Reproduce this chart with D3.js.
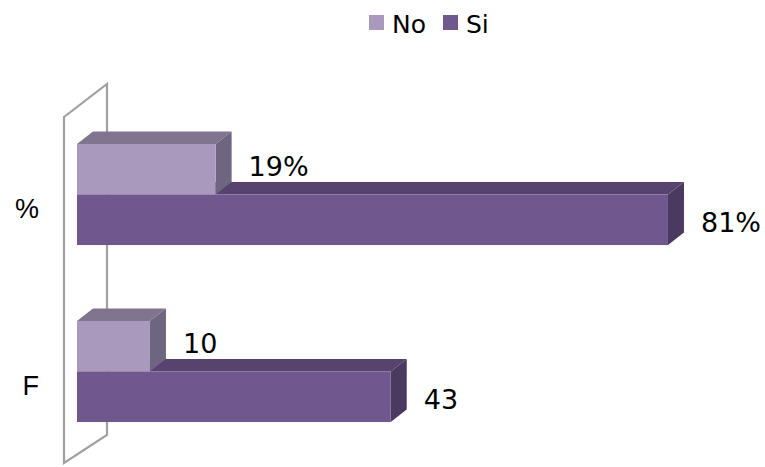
<!DOCTYPE html>
<html><head><meta charset="utf-8">
<script src="https://cdn.jsdelivr.net/npm/d3@7"></script>
<style>body{margin:0;background:#fff}svg{display:block}</style>
</head><body>
<script>
const categories = ["%", "F"];
const seriesNames = ["No", "Si"];
const noValues = [19, 10];
const siValues = [81, 43];
const valueLabels = [["19%", "81%"], ["10", "43"]];

const W = 765, H = 467;
const colors = {
  No: {front: "#A99ABD", top: "#80748F", side: "#6E6580"},
  Si: {front: "#70588F", top: "#56446E", side: "#4A3A5F"}
};
const dx = 16, dy = 12.5;

const svg = d3.select("body").append("svg").attr("width", W).attr("height", H);

const x = d3.scaleLinear().domain([0, 100]).range([77, 77 + 729.6]);
const y = d3.scaleBand().domain(categories).range([106, 460]).paddingInner(0.429).paddingOuter(0.2145);
const ySub = d3.scaleBand().domain(seriesNames).range([0, y.bandwidth()]);

// back wall
const x0 = x(0), r0 = y.range()[0], r1 = y.range()[1];
const wall = svg.append("g").attr("stroke", "#A0A0A0").attr("stroke-width", 2.2).attr("fill", "none");
wall.append("path").attr("d", `M${x0-13},${r0+11} L${x0+30},${r0-22} L${x0+30},${r1-25} L${x0-13},${r1+3} Z`);

const data = [];
categories.forEach((c, i) => {
  data.push({cat: c, s: "Si", v: siValues[i], label: valueLabels[i][1]});
  data.push({cat: c, s: "No", v: noValues[i], label: valueLabels[i][0]});
});

const bars = svg.append("g");
data.forEach(d => {
  const x1 = x(0), x2 = x(d.v);
  const y1 = y(d.cat) + ySub(d.s), y2 = y1 + ySub.bandwidth();
  const col = colors[d.s];
  const g = bars.append("g");
  g.append("path").attr("fill", col.top)
    .attr("d", `M${x1},${y1} L${x1+dx},${y1-dy} L${x2+dx},${y1-dy} L${x2},${y1} Z`);
  g.append("path").attr("fill", col.side)
    .attr("d", `M${x2},${y1} L${x2+dx},${y1-dy} L${x2+dx},${y2-dy} L${x2},${y2} Z`);
  g.append("rect").attr("fill", col.front)
    .attr("x", x1).attr("y", y1).attr("width", x2 - x1).attr("height", y2 - y1);
});

// value labels
svg.append("g").selectAll("text").data(data).join("text")
  .attr("x", d => x(d.v) + 33)
  .attr("y", d => y(d.cat) + ySub(d.s) + ySub.bandwidth() / 2 + (d.s === "No" ? 7 : 12))
  .attr("font-family", "DejaVu Sans, Verdana, sans-serif")
  .attr("font-size", 27).attr("fill", "#000")
  .text(d => d.label);

// category labels
svg.append("g").selectAll("text").data(categories).join("text")
  .attr("x", 39)
  .attr("y", d => y(d) + y.bandwidth() / 2 + 23)
  .attr("text-anchor", "end")
  .attr("font-family", "Liberation Sans, Arial, sans-serif")
  .attr("font-size", 27).attr("fill", "#000")
  .text(d => d);

// legend
const legend = svg.append("g");
const legX = [369, 443];
seriesNames.forEach((s, i) => {
  legend.append("rect").attr("x", legX[i]).attr("y", 15).attr("width", 15).attr("height", 15)
    .attr("fill", colors[s].front);
  legend.append("text").attr("x", legX[i] + 23).attr("y", 33)
    .attr("font-family", "DejaVu Sans, Verdana, sans-serif")
    .attr("font-size", 25).attr("fill", "#000").text(s);
});
</script>
</body></html>
